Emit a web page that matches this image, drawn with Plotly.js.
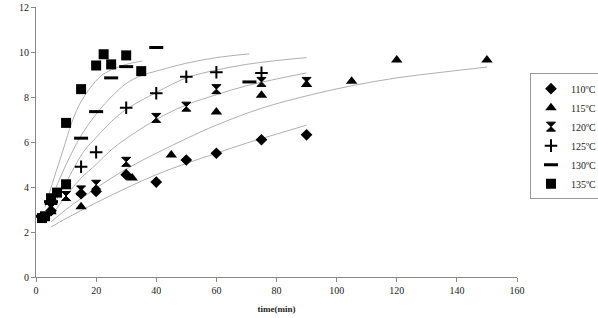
<!DOCTYPE html>
<html>
<head>
<meta charset="utf-8">
<script src="https://cdn.plot.ly/plotly-3.0.1.min.js"></script>
<style>html,body{margin:0;padding:0;background:#fff;}#chart{width:598px;height:318px;}</style>
</head>
<body>
<div id="chart"></div>
<script>
// Measured data (time in min, value)
const labels = ["110ºC", "115ºC", "120ºC", "125ºC", "130ºC", "135ºC"];

const t110 = [5, 15, 20, 30, 40, 50, 60, 75, 90];
const y110 = [2.95, 3.7, 3.8, 4.55, 4.22, 5.2, 5.5, 6.1, 6.32];

const t115 = [5, 15, 32, 45, 60, 75, 90, 105, 120, 150];
const y115 = [2.9, 3.12, 4.4, 5.42, 7.33, 8.08, 8.55, 8.7, 9.64, 9.64];

const t120 = [5, 10, 15, 20, 30, 40, 50, 60, 75, 90];
const y120 = [3.07, 3.6, 3.85, 4.1, 5.12, 7.07, 7.57, 8.35, 8.67, 8.67];

const t125 = [5, 15, 20, 30, 40, 50, 60, 75];
const y125 = [3.25, 4.9, 5.55, 7.52, 8.17, 8.9, 9.1, 9.07];

const t130 = [2, 5, 15, 20, 25, 30, 40, 71];
const y130 = [2.7, 3.35, 6.17, 7.35, 8.85, 9.35, 10.2, 8.67];

const t135 = [2, 3, 5, 7, 10, 10, 15, 20, 22.5, 25, 30, 35];
const y135 = [2.62, 2.7, 3.5, 3.75, 4.12, 6.85, 8.35, 9.4, 9.9, 9.45, 9.85, 9.15];

// Fitted curves
const ft110 = [5, 10, 20, 30, 40, 50, 60, 70, 80, 90];
const fy110 = [2.22, 2.6, 3.3, 3.95, 4.55, 5.05, 5.5, 5.95, 6.35, 6.75];

const ft115 = [5, 10, 20, 30, 40, 50, 60, 75, 90, 105, 120, 135, 150];
const fy115 = [2.45, 3.0, 3.95, 4.8, 5.5, 6.15, 6.75, 7.5, 8.05, 8.5, 8.85, 9.1, 9.33];

const ft120 = [5, 10, 15, 20, 25, 30, 40, 50, 60, 70, 80, 90];
const fy120 = [2.7, 3.6, 4.4, 5.0, 5.65, 6.15, 7.0, 7.65, 8.1, 8.5, 8.8, 9.07];

const ft125 = [5, 10, 16, 20, 25, 30, 40, 50, 60, 70, 80, 90];
const fy125 = [3.0, 4.2, 5.6, 6.2, 6.9, 7.45, 8.2, 8.85, 9.2, 9.45, 9.62, 9.75];

const ft130 = [4, 8, 12, 16, 21, 25, 30, 35, 40, 50, 60, 71];
const fy130 = [3.1, 4.4, 5.55, 6.5, 7.4, 8.0, 8.6, 8.95, 9.15, 9.5, 9.75, 9.92];

const ft135 = [3, 6, 9, 12, 15.3, 21.3, 25, 30, 35.3];
const fy135 = [3.1, 4.4, 5.64, 6.9, 7.87, 8.9, 9.2, 9.45, 9.6];

const fitColor = "#b0b0b0";
const fits = [[ft110, fy110], [ft115, fy115], [ft120, fy120], [ft125, fy125], [ft130, fy130], [ft135, fy135]];
const traces = fits.map(f => ({
  x: f[0], y: f[1], type: "scatter", mode: "lines", line: {color: fitColor, width: 1, shape: "spline"},
  showlegend: false, hoverinfo: "skip", cliponaxis: false
}));

const pts = [[t110, y110], [t115, y115], [t120, y120], [t125, y125], [t130, y130], [t135, y135]];
const markers = [
  {symbol: "diamond", size: 9, color: "#000"},
  {symbol: "triangle-up", size: 10, color: "#000"},
  {symbol: "hourglass", size: 9, color: "#000", line: {width: 1, color: "#000"}},
  {symbol: "cross-thin", size: 9, color: "#000", line: {width: 2, color: "#000"}},
  {symbol: "line-ew", size: 10, color: "#000", line: {width: 3, color: "#000"}},
  {symbol: "square", size: 10, color: "#000"}
];
pts.forEach((p, i) => {
  traces.push({x: p[0], y: p[1], type: "scatter", mode: "markers", name: labels[i], marker: markers[i], cliponaxis: false});
});

const font = {family: "Liberation Serif, Times New Roman, serif", size: 10, color: "#222"};
const layout = {
  width: 598, height: 318,
  margin: {l: 36, r: 81, t: 7, b: 41, autoexpand: false},
  paper_bgcolor: "#fff", plot_bgcolor: "#fff",
  font: font,
  showlegend: true,
  legend: {x: 1.027, y: 0.755, xanchor: "left", yanchor: "top", bgcolor: "#fff",
           bordercolor: "#999", borderwidth: 1, font: {family: font.family, size: 10, color: "#222"},
           itemwidth: 30, tracegroupgap: 0},
  xaxis: {range: [0, 160], dtick: 20, showgrid: false, zeroline: false, showline: true,
          linecolor: "#888", linewidth: 1, ticks: "outside", ticklen: 4, tickcolor: "#888",
          tickfont: font, title: {text: "time(min)", font: {family: font.family, size: 9, color: "#222", weight: "bold"}, standoff: 10}},
  yaxis: {range: [0, 12], dtick: 2, showgrid: false, zeroline: false, showline: true,
          linecolor: "#888", linewidth: 1, ticks: "outside", ticklen: 4, tickcolor: "#888",
          tickfont: font}
};
Plotly.newPlot("chart", traces, layout, {staticPlot: true});
</script>
</body>
</html>
